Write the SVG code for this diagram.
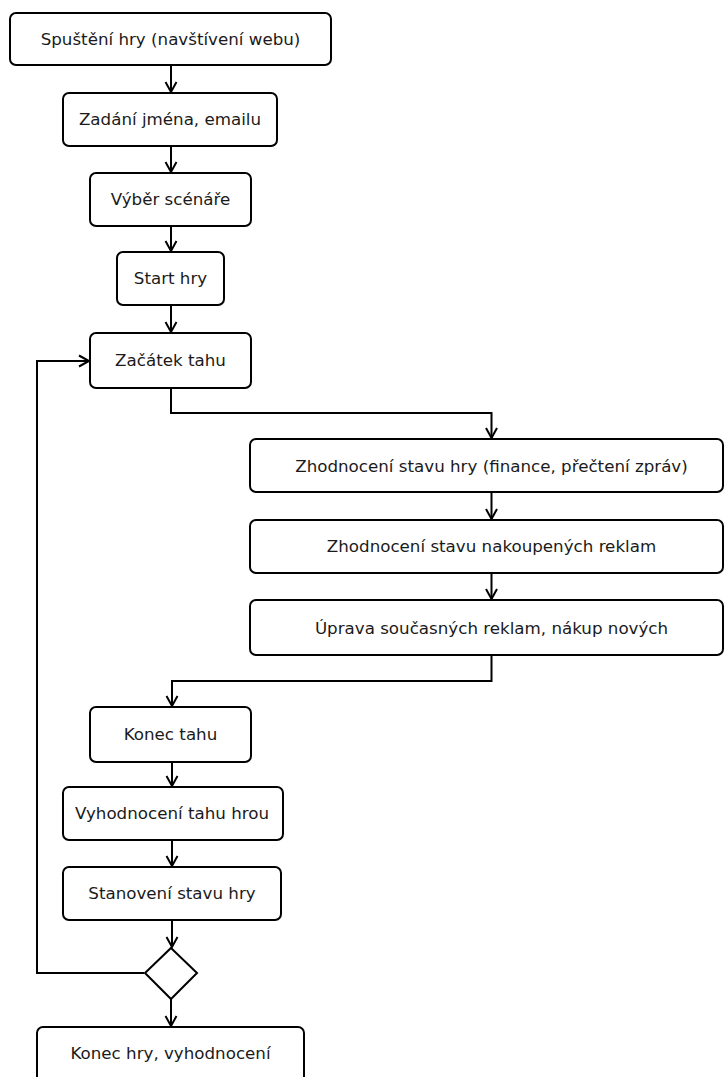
<svg xmlns="http://www.w3.org/2000/svg" width="724" height="1077" viewBox="0 0 724 1077">
<style>
.n rect,.n path{fill:#fff;stroke:#000;stroke-width:2}
.n text{font-family:"DejaVu Sans",sans-serif;font-size:16.7px;fill:#1a1a1a;text-anchor:middle;dominant-baseline:central}
.c path{fill:none;stroke:#000;stroke-width:2;marker-end:url(#a)}
</style>
<defs>
<marker id="a" markerWidth="16" markerHeight="16" refX="0" refY="0" viewBox="-13 -8 16 16" markerUnits="userSpaceOnUse" orient="auto" overflow="visible">
<path d="M-10,-5.5 L0,0 L-10,5.5" fill="none" stroke="#000" stroke-width="2"/>
</marker>
</defs>
<rect width="724" height="1077" fill="#fff"/>
<g class="c" id="connectors">
<path d="M171,65 V92"/>
<path d="M171,146 V172"/>
<path d="M171,226 V251"/>
<path d="M171,305 V332"/>
<path d="M171,388 V413 H491.5 V438"/>
<path d="M491.5,492 V519"/>
<path d="M491.5,573 V599"/>
<path d="M491.5,655 V681 H172 V706"/>
<path d="M172,762 V786"/>
<path d="M172,840 V866"/>
<path d="M172,920 V947"/>
<path d="M171,999 V1026"/>
<path d="M144,973 H37 V361 H89"/>
</g>
<g class="n" id="n1"><rect x="10" y="13" width="321" height="52" rx="6"/><text x="170.5" y="39">Spuštění hry (navštívení webu)</text></g>
<g class="n" id="n2"><rect x="63" y="93" width="214" height="53" rx="6"/><text x="170" y="119">Zadání jména, emailu</text></g>
<g class="n" id="n3"><rect x="90" y="173" width="161" height="53" rx="6"/><text x="170.5" y="199">Výběr scénáře</text></g>
<g class="n" id="n4"><rect x="117" y="252" width="107" height="53" rx="6"/><text x="170.5" y="278">Start hry</text></g>
<g class="n" id="n5"><rect x="90" y="333" width="161" height="55" rx="6"/><text x="170.5" y="360">Začátek tahu</text></g>
<g class="n" id="n6"><rect x="250" y="439" width="473" height="53" rx="6"/><text x="491.5" y="466">Zhodnocení stavu hry (finance, přečtení zpráv)</text></g>
<g class="n" id="n7"><rect x="250" y="520" width="473" height="53" rx="6"/><text x="491.5" y="546">Zhodnocení stavu nakoupených reklam</text></g>
<g class="n" id="n8"><rect x="250" y="600" width="473" height="55" rx="6"/><text x="491.5" y="628">Úprava současných reklam, nákup nových</text></g>
<g class="n" id="n9"><rect x="90" y="707" width="161" height="55" rx="6"/><text x="170.5" y="734">Konec tahu</text></g>
<g class="n" id="n10"><rect x="63" y="787" width="220" height="53" rx="6"/><text x="172" y="813">Vyhodnocení tahu hrou</text></g>
<g class="n" id="n11"><rect x="63" y="867" width="218" height="53" rx="6"/><text x="172" y="893">Stanovení stavu hry</text></g>
<g class="n" id="n12"><path d="M171,948 L197,973 L171,999 L145,973 Z"/></g>
<g class="n" id="n13"><rect x="37" y="1027" width="267" height="70" rx="6"/><text x="170.5" y="1053">Konec hry, vyhodnocení</text></g>
</svg>
